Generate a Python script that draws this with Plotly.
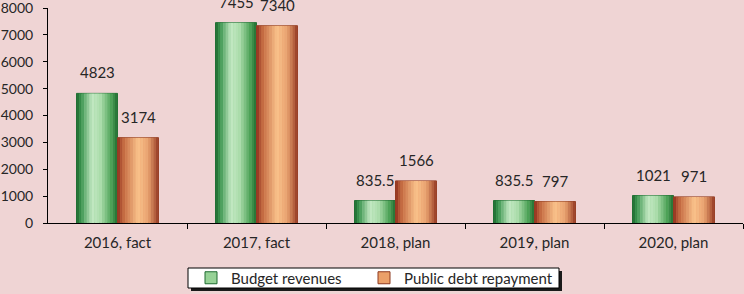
import plotly.graph_objects as go

categories = ["2016, fact", "2017, fact", "2018, plan", "2019, plan", "2020, plan"]
budget_revenues = [4823, 7455, 835.5, 835.5, 1021]
public_debt_repayment = [3174, 7340, 1566, 797, 971]
series_names = ["Budget revenues", "Public debt repayment"]
y_ticks = [0, 1000, 2000, 3000, 4000, 5000, 6000, 7000, 8000]

BG = "#EFD4D4"
FONT = "Lato"
TXT = "#262626"
W_PX, H_PX = 744, 294
M_L, M_R, M_T, M_B = 48, 1, 8, 71
PW = W_PX - M_L - M_R
PH = H_PX - M_T - M_B

green_stops = [(0.0, (30, 105, 48)), (0.12, (60, 150, 80)), (0.38, (195, 232, 195)),
               (0.6, (170, 220, 170)), (0.85, (75, 160, 85)), (1.0, (35, 110, 50))]
orange_stops = [(0.0, (145, 48, 30)), (0.15, (195, 105, 65)), (0.5, (250, 195, 140)),
                (0.75, (232, 162, 112)), (1.0, (150, 58, 35))]


def grad(stops, t):
    for (p0, c0), (p1, c1) in zip(stops, stops[1:]):
        if p0 <= t <= p1:
            f = (t - p0) / (p1 - p0) if p1 > p0 else 0
            c = [round(a + (b - a) * f) for a, b in zip(c0, c1)]
            return f"rgb({c[0]},{c[1]},{c[2]})"
    c = stops[-1][1]
    return f"rgb({c[0]},{c[1]},{c[2]})"


def px_x(px):
    return (px - M_L) / PW


def px_y(py):
    return (H_PX - M_B - py) / PH


xs = list(range(len(categories)))
W = 0.295
N = 16
fig = go.Figure()

legend_ids = ["legend", "legend2"]
for li, (name, vals, stops, base_off, edge, mid) in enumerate([
    (series_names[0], budget_revenues, green_stops, -W, "#1E6B30", "rgb(150,210,150)"),
    (series_names[1], public_debt_repayment, orange_stops, 0.0, "#8E3A20", "rgb(235,160,105)"),
]):
    fig.add_trace(go.Bar(x=xs, y=vals, name=name, offset=base_off, width=W,
                         marker=dict(color=mid, line=dict(color=edge, width=1)),
                         showlegend=True, legend=legend_ids[li], hoverinfo="skip"))
    for k in range(N):
        t = (k + 0.5) / N
        fig.add_trace(go.Bar(x=xs, y=vals, offset=base_off + k * W / N, width=W / N * 1.05,
                             marker=dict(color=grad(stops, t), line=dict(width=0)),
                             showlegend=False, hoverinfo="skip"))
    for i, v in zip(xs, vals):
        fig.add_annotation(x=i + base_off + W / 2, y=v, text=f"{v:g}", showarrow=False,
                           yanchor="bottom", yshift=10,
                           font=dict(family=FONT, size=15, color=TXT))

# legend frame with shadow
fig.add_shape(type="rect", xref="paper", yref="paper",
              x0=px_x(191), x1=px_x(562), y0=px_y(271), y1=px_y(291),
              fillcolor="#1a1a1a", line=dict(width=0), layer="above")
fig.add_shape(type="rect", xref="paper", yref="paper",
              x0=px_x(188), x1=px_x(559), y0=px_y(268), y1=px_y(288),
              fillcolor="white", line=dict(color="black", width=1), layer="above")

leg_common = dict(orientation="h", xref="container", yref="container",
                  y=(H_PX - 278) / H_PX, yanchor="middle", xanchor="left",
                  bgcolor="rgba(0,0,0,0)", borderwidth=0,
                  font=dict(family=FONT, size=15, color=TXT))

fig.update_layout(
    width=W_PX, height=H_PX,
    margin=dict(l=M_L, r=M_R, t=M_T, b=M_B),
    paper_bgcolor=BG, plot_bgcolor=BG,
    barmode="overlay",
    font=dict(family=FONT, size=15, color=TXT),
    legend=dict(x=191 / W_PX, **leg_common),
    legend2=dict(x=364 / W_PX, **leg_common),
    xaxis=dict(range=[-0.5, 4.5], tickmode="array", tickvals=xs, ticktext=categories,
               ticks="", showline=True, linecolor="black", linewidth=1,
               showgrid=False, zeroline=False, ticklabelstandoff=6, automargin=False,
               minor=dict(tickmode="array", tickvals=[x + 0.5 for x in xs],
                          ticks="outside", ticklen=5, tickcolor="black", showgrid=False)),
    yaxis=dict(range=[0, 8000], tickmode="array", tickvals=y_ticks,
               ticks="outside", ticklen=4, tickcolor="black",
               showline=True, linecolor="black", linewidth=1,
               showgrid=False, zeroline=False, ticklabelstandoff=7,
               tickfont=dict(family=FONT, size=14, color=TXT),
               ticklabeloverflow="allow", automargin=False),
)

fig.write_html("out.html", config={"displayModeBar": False},
               post_script="document.body.style.margin='0';document.body.style.padding='0';")
